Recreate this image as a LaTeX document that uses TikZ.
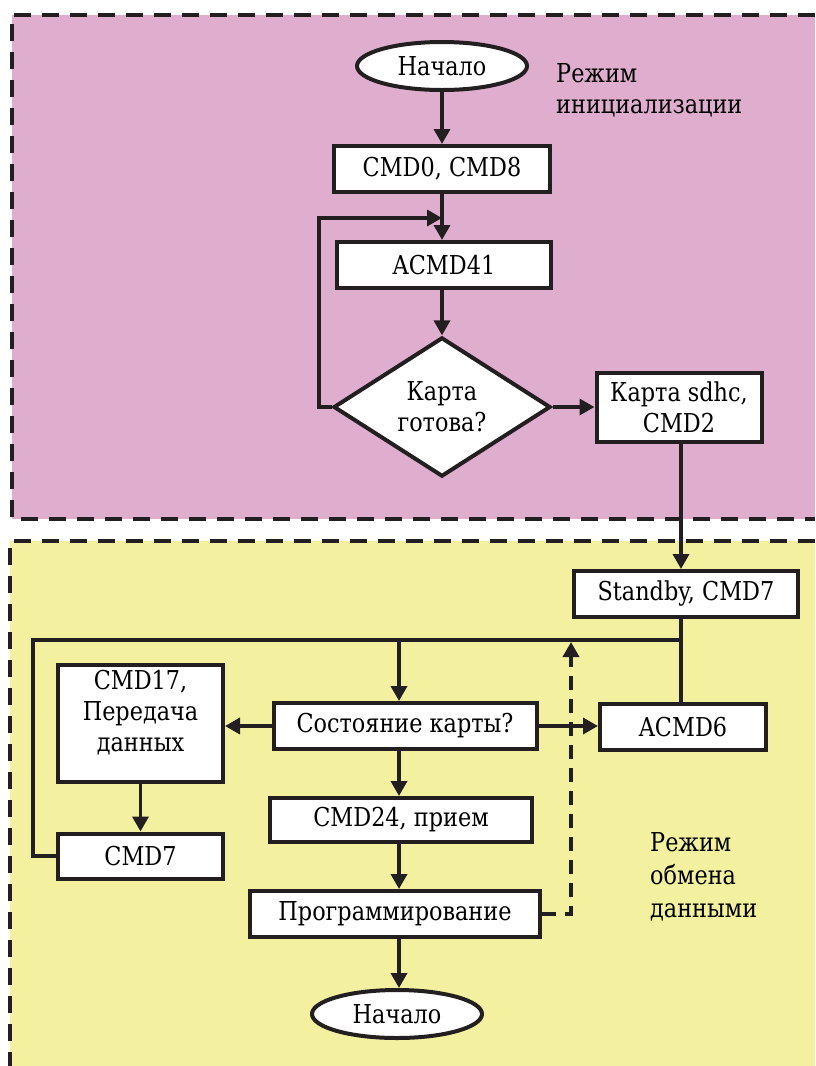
\documentclass[tikz,border=0pt]{standalone}
\usepackage{fontspec}
\setmainfont{DejaVu Serif}[FakeStretch=0.86]
\usetikzlibrary{arrows.meta,shapes.geometric}
\definecolor{ink}{HTML}{231F20}
\definecolor{pinkbg}{HTML}{DFAECF}
\definecolor{yellowbg}{HTML}{F3F0A0}
\begin{document}
\begin{tikzpicture}[x=1pt,y=-1pt,
  font=\rmfamily\fontsize{26}{31}\selectfont,
  box/.style={draw=ink, line width=4pt, fill=white, inner sep=0pt, align=center},
  term/.style={ellipse, draw=ink, line width=4pt, fill=white, inner sep=0pt,
    minimum width=170pt, minimum height=48pt},
  dia/.style={diamond, draw=ink, line width=4pt, fill=white, inner sep=0pt,
    align=center, minimum width=217pt, minimum height=130pt},
  conn/.style={draw=ink, line width=3.5pt},
  arr/.style={conn, -{Triangle[length=15pt,width=16pt]}},
  darr/.style={conn, dash pattern=on 14pt off 9pt, -{Triangle[length=15pt,width=16pt]}},
  border/.style={draw=ink, line width=3.5pt, dash pattern=on 17pt off 11pt},
  lbl/.style={anchor=west, align=left, inner sep=0pt}
]
\path[use as bounding box] (0,0) rectangle (815,1066);

% backgrounds
\fill[pinkbg] (12,15) rectangle (815,519);
\draw[border] (815,15) -- (12,15) -- (12,519) -- (815,519);
\fill[yellowbg] (10,541) rectangle (815,1070);
\draw[border] (815,541) -- (10,541) -- (10,1070);

% top part
\node[term] (start) at (442,66) {Начало};
\node[box, minimum width=216pt, minimum height=46pt] (cmd08) at (442,169) {CMD0, CMD8};
\node[box, minimum width=214pt, minimum height=46pt] (acmd41) at (444,265) {ACMD41};
\node[dia] (ready) at (442,407) {Карта\\готова?};
\node[box, minimum width=165pt, minimum height=69pt] (sdhc) at (679,407) {Карта sdhc,\\CMD2};
\node[lbl] (lab1) at (556,90) {Режим\\инициализации};

% bottom part
\node[box, minimum width=224pt, minimum height=46pt] (stdby) at (686,594) {Standby, CMD7};
\node[box, minimum width=166pt, minimum height=46pt] (acmd6) at (683,727) {ACMD6};
\node[box, minimum width=263pt, minimum height=46pt] (sost) at (405,726) {Состояние карты?};
\node[box, minimum width=165pt, minimum height=117pt] (cmd17) at (140.5,723.5) {};
\node[align=center, inner sep=0pt] (cmd17t) at (140.5,713) {CMD17,\\Передача\\данных};
\node[box, minimum width=165pt, minimum height=45pt] (cmd7) at (140.5,856) {CMD7};
\node[box, minimum width=262pt, minimum height=44pt] (cmd24) at (401,820) {CMD24, прием};
\node[box, minimum width=290pt, minimum height=46pt] (prog) at (395,914) {Программирование};
\node[term] (end) at (397,1014) {Начало};
\node[lbl, font=\rmfamily\fontsize{26}{33}\selectfont] (lab2) at (650,877) {Режим\\обмена\\данными};

% helper coordinates
\coordinate (loopL) at (319,218);
\coordinate (j1) at (681,640);
\coordinate (jL) at (33,640);
\coordinate (col) at (399,0);
\coordinate (dtop) at (571,642);

% connectors, top
\draw[arr] (start.south) -- (cmd08.north);
\draw[arr] (cmd08.south) -- (cmd08.south |- acmd41.north);
\draw[arr] (cmd08.south |- acmd41.south) -- (ready.north);
\draw[arr] (ready.west) -| (loopL) -- (cmd08.south |- loopL);
\draw[arr] (ready.east) -- (ready.east -| sdhc.west);
\draw[arr] (j1 |- sdhc.south) -- (j1 |- stdby.north);

% connectors, bottom
\draw[conn] (j1 |- stdby.south) -- (j1 |- acmd6.north);
\draw[conn] (j1) -- (jL) |- (cmd7.west);
\draw[arr] (col |- j1) -- (col |- sost.north);
\draw[arr] (sost.west) -- (sost.west -| cmd17.east);
\draw[arr] (sost.east) -- (sost.east -| acmd6.west);
\draw[arr] (cmd17.south) -- (cmd7.north);
\draw[arr] (col |- sost.south) -- (col |- cmd24.north);
\draw[arr] (col |- cmd24.south) -- (col |- prog.north);
\draw[arr] (col |- prog.south) -- (col |- end.north);
\draw[darr] (prog.east) -| (dtop);
\end{tikzpicture}
\end{document}
